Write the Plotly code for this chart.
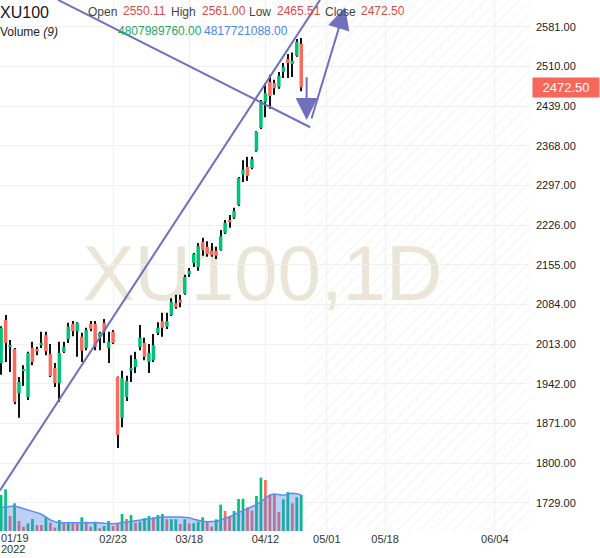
import plotly.graph_objects as go

# daily bars of XU100, 2022-01-19 .. 2022-04-22 (x = bar index)
opens = [1979, 2056, 2008, 2004, 1925, 1965, 1918, 2006, 2004, 2013,
         2029, 1995, 1970, 1943, 1999, 2022, 2049, 2036, 2026, 2006,
         2049, 2049, 2026, 2051, 2006, 2035, 1954, 1881, 1918, 1966,
         1972, 2008, 2015, 1981, 1984, 2033, 2054, 2044, 2065, 2086,
         2092, 2103, 2138, 2158, 2151, 2196, 2187, 2180, 2180, 2181,
         2212, 2235, 2239, 2262, 2316, 2330, 2328, 2359, 2400, 2446,
         2482, 2480, 2473, 2500, 2523, 2514, 2529, 2550.11]
highs = [2045, 2065, 2020, 2006, 1954, 1975, 1999, 2017, 2008, 2035,
         2035, 2013, 1979, 2017, 2017, 2051, 2054, 2052, 2033, 2042,
         2054, 2054, 2035, 2058, 2035, 2038, 1955, 1965, 1956, 1993,
         1999, 2047, 2024, 2013, 2031, 2052, 2069, 2069, 2095, 2101,
         2101, 2137, 2149, 2176, 2194, 2203, 2197, 2194, 2187, 2217,
         2235, 2244, 2257, 2312, 2342, 2348, 2348, 2394, 2450, 2480,
         2495, 2486, 2500, 2516, 2532, 2535, 2559, 2561.00]
lows = [1958, 1981, 1963, 1905, 1881, 1938, 1913, 1975, 1993, 2006,
        1993, 1954, 1936, 1909, 1997, 2015, 2027, 1990, 1981, 2002,
        2036, 2002, 2002, 2015, 1979, 2013, 1827, 1864, 1911, 1945,
        1961, 2002, 1984, 1961, 1981, 2029, 2026, 2040, 2063, 2076,
        2079, 2101, 2133, 2151, 2144, 2171, 2169, 2169, 2165, 2180,
        2210, 2221, 2237, 2260, 2303, 2305, 2326, 2357, 2398, 2419,
        2434, 2459, 2470, 2489, 2489, 2491, 2527, 2465.51]
closes = [2042, 2015, 2011, 1909, 1945, 1968, 1997, 1981, 2000, 2015,
          2000, 1956, 1943, 1997, 2008, 2044, 2036, 2051, 2001, 2038,
          2040, 2008, 2033, 2035, 2017, 2015, 1850, 1952, 1947, 1970,
          1986, 2024, 1990, 1997, 2011, 2042, 2042, 2054, 2088, 2079,
          2087, 2133, 2144, 2174, 2188, 2181, 2174, 2172, 2171, 2206,
          2230, 2231, 2251, 2310, 2325, 2314, 2344, 2393, 2448, 2462,
          2457, 2471, 2493, 2509, 2516, 2520, 2554, 2472.50]

# volume in billions, its colour flag (1 = green) and the 9-day average
volume_bn = [4.81, 5.57, 2.00, 3.70, 1.34, 0.58, 1.02, 1.60, 0.80, 0.80,
             1.83, 1.11, 0.45, 1.47, 1.02, 1.02, 1.02, 1.02, 1.83, 1.25,
             0.58, 1.25, 0.36, 0.67, 1.34, 0.67, 1.02, 2.27, 1.60, 2.14,
             1.11, 1.25, 1.74, 2.00, 1.83, 2.14, 2.27, 1.56, 1.56, 1.56,
             0.93, 1.56, 1.02, 1.02, 1.25, 1.83, 1.25, 0.58, 1.56, 3.52,
             2.67, 2.00, 2.67, 4.27, 4.32, 3.16, 2.72, 4.67, 7.12, 6.81,
             4.81, 4.81, 2.54, 4.23, 5.21, 3.70, 4.50, 4.80798976]
volume_up = [1, 1, 0, 1, 0, 0, 1, 1, 0, 0,
             1, 0, 0, 1, 0, 1, 0, 0, 1, 0,
             0, 1, 0, 1, 1, 0, 0, 1, 0, 1,
             0, 1, 1, 1, 0, 1, 1, 0, 1, 1,
             0, 1, 0, 1, 1, 1, 0, 0, 1, 1,
             0, 0, 1, 1, 1, 0, 0, 1, 1, 0,
             0, 0, 0, 1, 1, 0, 1, 1]
volume_ma_bn = [3.16, 3.25, 3.34, 3.34, 3.16, 2.98, 2.89, 2.67, 2.45, 2.23,
                1.83, 1.47, 1.25, 1.11, 1.11, 1.11, 1.11, 1.11, 1.11, 1.16,
                1.11, 1.20, 1.11, 1.02, 0.98, 0.98, 1.02, 1.11, 1.20, 1.29,
                1.38, 1.47, 1.60, 1.69, 1.78, 1.83, 1.87, 1.87, 1.83, 1.87,
                1.87, 1.83, 1.78, 1.56, 1.38, 1.29, 1.25, 1.25, 1.29, 1.47,
                1.65, 1.91, 2.18, 2.45, 2.63, 2.89, 3.16, 3.52, 3.92, 4.36,
                4.81, 4.94, 4.85, 4.76, 4.94, 5.03, 4.99, 4.817721088]

# x axis labels (bar index positions, the last three are in the future area)
tick_pos = [25, 42, 59, 72.7, 85.7, 110.2]
tick_text = ["02/23", "03/18", "04/12", "05/01", "05/18", "06/04"]
price_ticks = [1729, 1800, 1871, 1942, 2013, 2084, 2155, 2226, 2297, 2368, 2439, 2510, 2581]

# user drawings (bar index, price)
trend_up = ([-0.25, 71.2], [1751, 2629])
trend_down = ([12.7, 69.0], [2629, 2401])
arrow_down = ((68.2, 2493), (68.2, 2414))
arrow_up = ((69.2, 2414), (76.8, 2616))

x_range = [-0.245, 118.06]
y_range = [1678.3, 2628.8]
vol_range = [0, 70.9]

GREEN = "#00c278"
RED = "#f96b5d"
DRAW = "rgb(112,112,190)"

x = list(range(len(closes)))
up = [c >= o for o, c in zip(opens, closes)]

fig = go.Figure()

# hatched future area
future_start = len(closes) - 0.5
fig.add_trace(go.Scatter(
    x=[future_start, x_range[1], x_range[1], future_start, future_start],
    y=[y_range[0], y_range[0], y_range[1], y_range[1], y_range[0]],
    mode="lines", fill="toself", line=dict(width=0),
    fillcolor="rgba(0,0,0,0)",
    fillpattern=dict(shape="/", fgcolor="#e6e6e6", size=8, solidity=0.12),
    hoverinfo="skip", showlegend=False))

# wicks, then bodies on top of them
fig.add_trace(go.Bar(
    x=x, base=lows, y=[h - l for h, l in zip(highs, lows)],
    width=0.23, marker=dict(color="#111", line=dict(width=0)),
    hoverinfo="skip", showlegend=False))

fig.add_trace(go.Bar(
    x=x, base=[min(o, c) for o, c in zip(opens, closes)],
    y=[max(abs(c - o), 1.2) for o, c in zip(opens, closes)],
    width=0.78,
    marker=dict(color=[GREEN if u else RED for u in up], line=dict(width=0)),
    name="XU100", showlegend=False))

# trend lines
fig.add_trace(go.Scatter(x=trend_up[0], y=trend_up[1], mode="lines",
                         line=dict(color=DRAW, width=2), hoverinfo="skip", showlegend=False))
fig.add_trace(go.Scatter(x=trend_down[0], y=trend_down[1], mode="lines",
                         line=dict(color=DRAW, width=2), hoverinfo="skip", showlegend=False))

# volume + MA(9) on an overlaid axis
fig.add_trace(go.Bar(
    x=x, y=volume_bn, yaxis="y2", width=0.6,
    marker=dict(color=[GREEN if u else RED for u in volume_up], line=dict(width=0)),
    name="Volume", showlegend=False))
fig.add_trace(go.Scatter(
    x=x, y=volume_ma_bn, yaxis="y2", mode="lines", fill="tozeroy",
    line=dict(color="#5b8def", width=1.5), fillcolor="rgba(80,130,230,0.38)",
    name="Volume MA", showlegend=False))

for (tx, ty), (hx, hy) in [arrow_down, arrow_up]:
    fig.add_annotation(x=hx, y=hy, ax=tx, ay=ty, xref="x", yref="y", axref="x", ayref="y",
                       text="", showarrow=True, arrowhead=2, arrowsize=2.2,
                       arrowwidth=2, arrowcolor=DRAW)

# watermark behind the candles
fig.add_shape(type="rect", xref="paper", yref="paper", x0=0.09, x1=0.9, y0=0.4, y1=0.6,
              line=dict(width=0), fillcolor="rgba(0,0,0,0)", layer="below",
              label=dict(text="XU100,1D", textposition="middle center",
                         font=dict(size=78, color="rgba(205,195,160,0.42)",
                                   family="Liberation Sans, Arial")))

PW, PH = 530, 531


def add_text(px, py, text, color, size=12):
    fig.add_annotation(x=px / PW, y=1 - py / PH, xref="paper", yref="paper",
                       xanchor="left", yanchor="middle", showarrow=False,
                       text=text, font=dict(size=size, color=color), borderpad=0)


VAL_RED = "#d64b45"
add_text(-1, 12, "XU100", "#131722", 16)
add_text(87, 12, "Open", "#444", 12)
add_text(122, 11, f"{opens[-1]:.2f}", VAL_RED, 12)
add_text(170, 12, "High", "#444", 12)
add_text(201, 11, f"{highs[-1]:.2f}", VAL_RED, 12)
add_text(248, 12, "Low", "#444", 12)
add_text(276, 11, f"{lows[-1]:.2f}", VAL_RED, 12)
add_text(324, 12, "Close", "#444", 12)
add_text(360, 11, f"{closes[-1]:.2f}", VAL_RED, 12)
add_text(-1, 32, "Volume <i>(9)</i>", "#222", 12)
add_text(117, 31, f"{volume_bn[-1] * 1e9:.2f}", "#1fa463", 12)
add_text(203, 31, f"{volume_ma_bn[-1] * 1e9:.2f}", "#4a86e8", 12)

# first date label with the year under it, kept inside the chart like the original
add_text(0, 538, "01/19", "#333", 11)
add_text(0, 549, "2022", "#333", 11)

# last price tag on the axis
fig.add_annotation(x=1, y=closes[-1], xref="paper", yref="y", xanchor="left", xshift=2,
                   text=f"{closes[-1]:.2f}", showarrow=False, bgcolor="#f7675c",
                   font=dict(size=13, color="white"), width=62, height=15, borderpad=2)

fig.update_layout(
    width=600, height=558,
    margin=dict(l=0, r=70, t=0, b=27),
    paper_bgcolor="white", plot_bgcolor="white",
    barmode="overlay", showlegend=False, hovermode="x",
    font=dict(family="Liberation Sans, Arial, sans-serif", size=11, color="#222"),
    xaxis=dict(range=x_range, tickvals=tick_pos, ticktext=tick_text,
               showgrid=True, gridcolor="#f0f0f0", zeroline=False, showline=False,
               ticks="", tickfont=dict(size=11, color="#333"), fixedrange=True),
    yaxis=dict(range=y_range, side="right", tickvals=price_ticks, tickformat=".2f",
               showgrid=True, gridcolor="#f0f0f0", zeroline=False, showline=False,
               ticks="", ticklabelstandoff=5, tickfont=dict(size=11, color="#222")),
    yaxis2=dict(overlaying="y", range=vol_range, visible=False),
)

# the page has a default body margin; drop it so the chart sits at the window corner
fig.write_html("out.html", config={"displayModeBar": False},
               post_script="document.body.style.margin='0';")
